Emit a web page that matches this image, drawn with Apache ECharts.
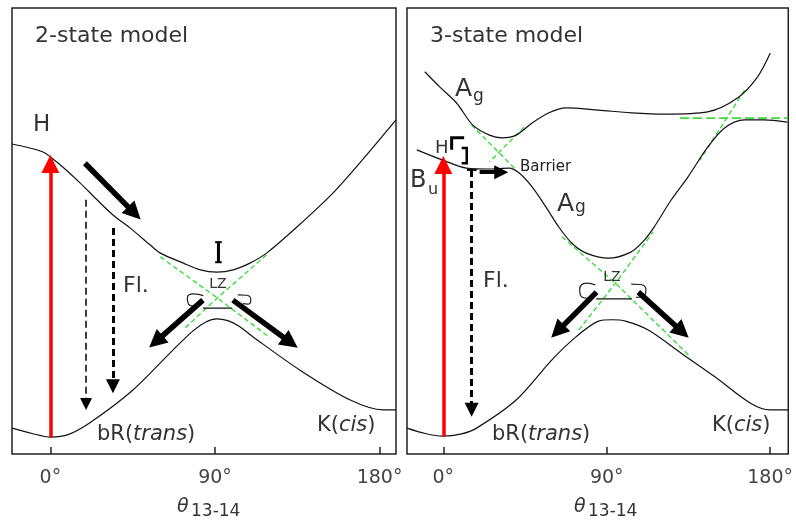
<!DOCTYPE html>
<html>
<head>
<meta charset="utf-8">
<script src="https://cdn.jsdelivr.net/npm/echarts@6.0.0/dist/echarts.min.js"></script>
<style>html,body{margin:0;padding:0;background:#fff}#c{width:796px;height:521px}</style>
</head>
<body>
<div id="c"></div>
<script>
// ---- data: [torsion angle (deg), energy (arb. units)] ----
const xTicks = [0, 90, 180];
// 2-state model
const leftUpper = [[-21,69.5],[-11.2,68.6],[-4,67.7],[0,66.6],[6.9,64.3],[16.2,60.8],[25.5,57.0],[34.2,53.6],[43.5,50.7],[54.5,46.9],[59.9,45.1],[72.7,42.8],[82,41.3],[91,40.8],[100,41.3],[109.1,42.8],[118.4,45.1],[134.8,50.9],[154.5,58.5],[172,66.6],[189,74.9]];
const leftLower = [[-21,5.8],[-10,4.6],[0,3.8],[10,4.4],[21.6,7.0],[45,14.3],[67,23.3],[78,27.6],[85,29.6],[91,30.3],[97,29.9],[103,28.7],[111,26.2],[136.5,18.8],[164,12.1],[182,9.9],[189,9.9]];
const leftDiabA = [[60.1,44.2],[91.3,35.0],[120.3,26.0]];
const leftDiabB = [[73.8,28.3],[91.3,35.0],[118.1,44.6]];
const leftGapBar = [[83.4,32.7],[99.3,32.7]];
const leftCurlL = [[83.6,35.5],[78.3,35.9],[74.9,35.0],[75.4,33.7],[78.6,33.2]];
const leftCurlR = [[102.5,35.7],[107.4,35.6],[109.6,34.5],[107.9,33.6],[105.2,33.7]];
const leftExcite = [[0,3.8],[0,65.0]];
const leftSlide = [[18.9,65.2],[45.9,54.0]];
const leftFlThin = [[19.5,57.0],[19.5,11.2]];
const leftFlThick = [[34.2,50.7],[34.2,15.2]];
const leftOutL = [[83.4,34.5],[57.7,25.2]];
const leftOutR = [[99.8,34.5],[131.3,25.0]];
const leftGapMark = [[91.9,43.0],[91.9,47.5]];
// 3-state model
const rightUpper = [[-10.2,85.7],[-2.0,82.3],[7.3,78.7],[16.1,73.8],[25.4,71.5],[32.5,70.9],[40.1,71.5],[48.9,74.2],[58.2,76.5],[67.5,77.6],[85.5,77.1],[103.5,76.5],[122,76.2],[145.6,76.7],[162.0,79.8],[173.0,84.5],[180.1,89.9]];
const rightMiddle = [[-14.6,68.2],[-0.3,65.9],[12.8,64.1],[25.4,63.9],[36.3,64.1],[41.8,63.0],[48.9,59.9],[56.5,55.4],[63.6,50.9],[70.7,47.3],[78.4,45.1],[91.0,43.9],[103,45.2],[110,47.6],[116,50.8],[125.4,56.9],[134.7,62.1],[145.6,68.8],[154.9,73.1],[165.8,74.9],[176.8,74.9],[189.4,74.4]];
const rightLower = [[-20,5.8],[-10,4.6],[-0.3,4.0],[10,4.5],[18.3,5.8],[40.1,12.1],[59.8,21.1],[72.9,26.2],[85.5,29.8],[93,30.1],[100.3,29.8],[112.9,27.8],[131.0,22.6],[149.6,17.3],[169.2,11.4],[180.1,9.9],[190,9.9]];
const rightBarA = [[15.5,73.8],[30.8,67.5],[40.1,63.7]];
const rightBarB = [[44.5,73.3],[25.4,65.5]];
const rightTopH = [[130.4,75.3],[189.4,75.3]];
const rightTopD = [[165.9,81.6],[141.3,65.9]];
const rightLZA = [[65.3,48.7],[94.8,38.3],[136.3,21.7]];
const rightLZB = [[74.6,27.8],[94.8,38.3],[115.6,49.8]];
const rightGapBar = [[84.2,34.8],[103.9,34.8]];
const rightCurlL = [[83.9,37.9],[79.0,38.3],[75.1,36.8],[76.3,35.2],[80.0,34.9]];
const rightCurlR = [[103.5,38.1],[108.5,38.0],[111.6,36.8],[109.5,35.2],[106.2,35.1]];
const rightExcite = [[0,4.0],[0,64.8]];
const rightFl = [[15.6,63.7],[15.6,9.9]];
const rightFlCap = [[13.0,63.7],[18.4,63.7]];
const rightHop = [[4.6,68.2],[4.6,70.9],[11.5,70.9]];
const rightBracket = [[10.1,68.6],[12.9,68.6],[12.9,65.2],[10.1,65.2]];
const rightBarrierArrow = [[20.0,63.2],[31.9,63.2]];
const rightOutL = [[84.4,36.3],[62.9,27.5]];
const rightOutR = [[107.4,36.3],[131.5,27.4]];

const FONT = 'DejaVu Sans';
const INK = '#111';
const GREEN = '#3ddc3d';

function curve(data, i, w) {
  return {type:'line', xAxisIndex:i, yAxisIndex:i, data:data, smooth:0.3, showSymbol:false, symbol:'none',
    lineStyle:{color:INK, width:w||1.2}, silent:true, animation:false, z:3};
}
function straight(data, i, color, w, type) {
  return {type:'line', xAxisIndex:i, yAxisIndex:i, data:data, smooth:false, showSymbol:false, symbol:'none',
    lineStyle:{color:color, width:w, type:type||'solid'}, silent:true, animation:false, z:2};
}
function curl(data, i) {
  return {type:'line', xAxisIndex:i, yAxisIndex:i, data:data, smooth:0.6, showSymbol:false, symbol:'none',
    lineStyle:{color:'#222', width:1.2}, silent:true, animation:false, z:4};
}
function arrow(coords, i, color, w, head, type) {
  return {type:'lines', coordinateSystem:'cartesian2d', xAxisIndex:i, yAxisIndex:i, polyline: coords.length > 2,
    data:[{coords:coords}], symbol:['none', head ? 'triangle' : 'none'], symbolSize: head || 0,
    lineStyle:{color:color, width:w, type:type||'solid', opacity:1, curveness:0},
    itemStyle:{color:color}, silent:true, animation:false, z:5};
}

function xAxis(i, min, max) {
  return {type:'value', gridIndex:i, min:min, max:max,
    splitLine:{show:false}, axisLine:{show:false},
    axisTick:{show:true, inside:true, length:7, customValues:xTicks, lineStyle:{color:'#222', width:1.5}},
    axisLabel:{show:true, customValues:xTicks, formatter:'{value}°', margin:15, fontSize:19, fontFamily:FONT, color:'#444'}};
}

function T(x, y, text, size, extra) {
  const st = Object.assign({x:x, y:y, text:text, fontSize:size, fontFamily:FONT, fill:'#333', align:'left', verticalAlign:'middle'}, extra||{});
  return {type:'text', silent:true, z:10, style:st};
}
const italicRich = (size) => ({i:{fontStyle:'italic', fontSize:size, fontFamily:FONT, fill:'#333'}, n:{fontSize:size, fontFamily:FONT, fill:'#333'}});

const option = {
  backgroundColor:'#fff',
  animation:false,
  grid:[
    {left:12, top:8, width:384, height:446, show:true, borderColor:'#222', borderWidth:1.5, backgroundColor:'transparent'},
    {left:407, top:8, width:384, height:446, show:true, borderColor:'#222', borderWidth:1.5, backgroundColor:'transparent'}
  ],
  xAxis:[xAxis(0,-21,189), xAxis(1,-20,190)],
  yAxis:[
    {type:'value', gridIndex:0, min:0, max:100, show:false},
    {type:'value', gridIndex:1, min:0, max:100, show:false}
  ],
  series:[
    // left panel
    straight(leftDiabA,0,GREEN,1.4,[5,3]),
    straight(leftDiabB,0,GREEN,1.4,[5,3]),
    curve(leftUpper,0),
    curve(leftLower,0),
    straight(leftGapBar,0,INK,1.3),
    curl(leftCurlL,0), curl(leftCurlR,0),
    arrow(leftExcite,0,'#ff0000',3.5,18),
    arrow(leftSlide,0,'#000',5.5,18),
    arrow(leftFlThin,0,'#000',1.5,12,[7,4]),
    arrow(leftFlThick,0,'#000',3,14,[7,4]),
    arrow(leftOutL,0,'#000',5.5,18),
    arrow(leftOutR,0,'#000',5.5,18),
    straight(leftGapMark,0,'#000',3),
    straight([[90.1,47.5],[93.7,47.5]],0,'#000',2),
    straight([[90.1,43.0],[93.7,43.0]],0,'#000',2),
    // right panel
    straight(rightBarA,1,GREEN,1.4,[5,3]),
    straight(rightBarB,1,GREEN,1.4,[5,3]),
    straight(rightTopH,1,GREEN,1.6,[9,4]),
    straight(rightTopD,1,GREEN,1.4,[5,3]),
    straight(rightLZA,1,GREEN,1.4,[5,3]),
    straight(rightLZB,1,GREEN,1.4,[5,3]),
    curve(rightUpper,1),
    curve(rightMiddle,1),
    curve(rightLower,1),
    straight(rightGapBar,1,INK,1.3),
    curl(rightCurlL,1), curl(rightCurlR,1),
    arrow(rightExcite,1,'#ff0000',3.5,18),
    arrow(rightFl,1,'#000',3,14,[7,4]),
    straight(rightFlCap,1,'#000',2),
    arrow(rightHop,1,'#000',3,13),
    arrow(rightBracket,1,'#000',2.5,0),
    arrow(rightBarrierArrow,1,'#000',4,14),
    arrow(rightOutL,1,'#000',5.5,18),
    arrow(rightOutR,1,'#000',5.5,18)
  ],
  graphic:[
    // left texts
    T(35,36,'2-state model',22),
    T(33,125,'H',23),
    T(123,286,'Fl.',22),
    T(218,284,'LZ',14,{align:'center'}),
    T(97,435,'bR({i|trans})',21,{rich:italicRich(21)}),
    T(317,426,'K({i|cis})',21,{rich:italicRich(21)}),
    T(177,507,'θ',19,{fontStyle:'italic'}),
    T(191,512,'13-14',17),
    // right texts
    T(430,36,'3-state model',22),
    T(455,89.5,'A',25),
    T(473,97,'g',17),
    T(435,148,'H',18),
    T(410,180.5,'B',24),
    T(428,190,'u',16),
    T(520,167,'Barrier',15,{fill:'#222'}),
    T(557,204,'A',25),
    T(575,208,'g',17),
    T(483,281,'Fl.',22),
    T(612,277,'LZ',14,{align:'center'}),
    T(492,435,'bR({i|trans})',21,{rich:italicRich(21)}),
    T(712,426,'K({i|cis})',21,{rich:italicRich(21)}),
    T(574,507,'θ',19,{fontStyle:'italic'}),
    T(588,512,'13-14',17)
  ]
};
const chart = echarts.init(document.getElementById('c'), null, {renderer:'canvas'});
chart.setOption(option);
</script>
</body>
</html>
